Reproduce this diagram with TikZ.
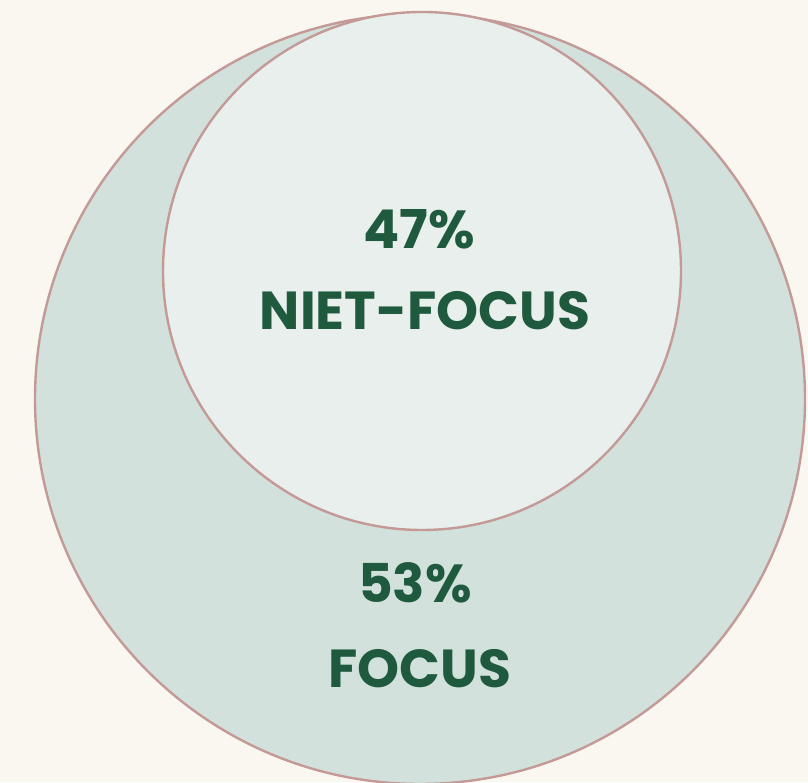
\documentclass[tikz,border=0pt]{standalone}
\usepackage{fontspec}
\setmainfont{Poppins}[BoldFont={* Bold}]
\definecolor{bgc}{HTML}{FAF6F0}
\definecolor{outerfill}{HTML}{D3E1DD}
\definecolor{innerfill}{HTML}{E8EFEC}
\definecolor{rim}{HTML}{C49A96}
\definecolor{txt}{HTML}{1F5A3E}
\tikzset{
  ring/.style={draw=rim, line width=2.4pt},
  lbl/.style={text=txt, font=\fontsize{53.5}{56}\selectfont\bfseries, inner sep=0pt, anchor=base}
}
\begin{document}
\begin{tikzpicture}[x=1pt,y=1pt]
\fill[bgc] (0,0) rectangle (808,782);
\useasboundingbox (0,0) rectangle (808,782);
\begin{scope}
\clip (0,0) rectangle (808,782);
\draw[ring, fill=outerfill] (420,383) circle (385);
\draw[ring, fill=innerfill] (422,511) circle (259);
\end{scope}
\node[lbl] (p47) at (419,533) {47\%};
\node[lbl] (niet) at (425,452) {NIET-FOCUS};
\node[lbl] (p53) at (415,179) {53\%};
\node[lbl] (focus) at (420,95) {FOCUS};
\end{tikzpicture}
\end{document}
